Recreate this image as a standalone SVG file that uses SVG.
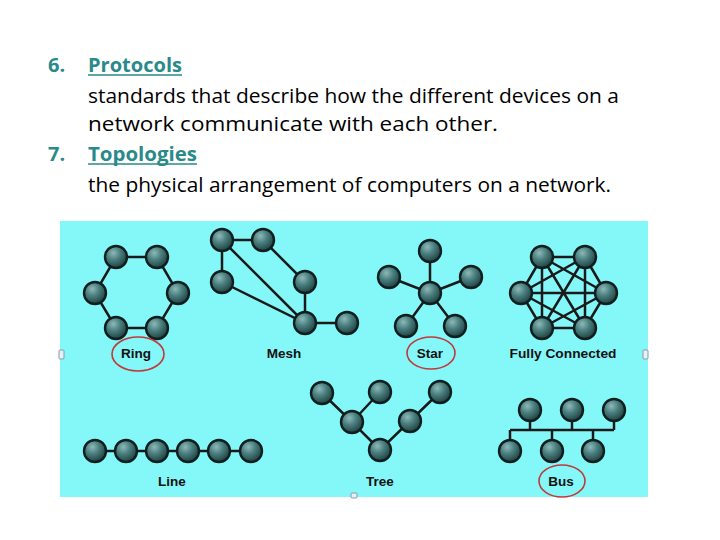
<svg xmlns="http://www.w3.org/2000/svg" width="720" height="540" viewBox="0 0 720 540">
<defs>
<radialGradient id="ng" cx="0.38" cy="0.32" r="0.7">
<stop offset="0" stop-color="#8fb8b8"/>
<stop offset="0.45" stop-color="#4a7f7f"/>
<stop offset="1" stop-color="#203f3f"/>
</radialGradient>
</defs>
<style>
.t{font-family:"Open Sans","Liberation Sans",Arial,sans-serif;font-size:20px;fill:#000}
.h{font-family:"Open Sans","Liberation Sans",Arial,sans-serif;font-size:20px;font-weight:bold;fill:#2a8a8a}
.n{fill:url(#ng);stroke:#0f1e1e;stroke-width:2.4}
.e{stroke:#1a1a1a;stroke-width:2.5;fill:none}
.l{font-family:"Liberation Sans",Arial,sans-serif;font-size:13.5px;font-weight:bold;fill:#111;text-anchor:middle}
.o{fill:none;stroke:#c0393b;stroke-width:1.6}
.hd{fill:#e8f0f4;stroke:#8a9aa8;stroke-width:1}
</style>
<rect width="720" height="540" fill="#fff"/>
<g id="text">
<text class="h" x="48" y="72">6.</text>
<text class="h" x="88" y="72" textLength="94" lengthAdjust="spacingAndGlyphs">Protocols</text>
<line x1="88" y1="75" x2="182" y2="75" stroke="#2a8a8a" stroke-width="1.5"/>
<text class="t" x="88" y="103" textLength="531" lengthAdjust="spacingAndGlyphs">standards that describe how the different devices on a</text>
<text class="t" x="88" y="131" textLength="410" lengthAdjust="spacingAndGlyphs">network communicate with each other.</text>
<text class="h" x="48" y="161">7.</text>
<text class="h" x="88" y="161" textLength="109" lengthAdjust="spacingAndGlyphs">Topologies</text>
<line x1="88" y1="164" x2="197" y2="164" stroke="#2a8a8a" stroke-width="1.5"/>
<text class="t" x="88" y="192" textLength="523" lengthAdjust="spacingAndGlyphs">the physical arrangement of computers on a network.</text>
</g>
<rect id="panel" x="60" y="221" width="588" height="276" fill="#84f8f8"/>
<g id="handles">
<rect class="hd" x="59" y="350" width="5" height="9" rx="1"/>
<rect class="hd" x="643" y="350" width="5" height="9" rx="1"/>
<rect class="hd" x="351" y="493" width="6" height="5" rx="1"/>
</g>
<g id="connectors">
<polygon class="e" points="116,257 157,257 178,293 157,328 116,328 95,293"/>
<path class="e" d="M222,240 L263,240 M222,240 L222,282 M222,240 L305,323 M263,240 L305,282 L305,323 M222,282 L305,323 L347,323"/>
<path class="e" d="M430,293 L430,251 M430,293 L389,277 M430,293 L471,277 M430,293 L406,326 M430,293 L455,326"/>
<path class="e" d="M542,257 L585,257 M542,257 L521,293 M542,257 L606,293 M542,257 L542,328 M542,257 L585,328 M585,257 L521,293 M585,257 L606,293 M585,257 L542,328 M585,257 L585,328 M521,293 L606,293 M521,293 L542,328 M521,293 L585,328 M606,293 L542,328 M606,293 L585,328 M542,328 L585,328" stroke-width="2"/>
<path class="e" d="M95,451 L251,451"/>
<path class="e" d="M322,393 L352,422 L380,450 L410,421 L440,392 M380,392 L352,422"/>
<path class="e" d="M510,430 L614,430 M530,410 L530,430 M572,410 L572,430 M614,410 L614,430 M510,430 L510,450 M552,430 L552,450 M593,430 L593,450"/>
</g>
<g id="ring">
<circle class="n" cx="116" cy="257" r="11"/>
<circle class="n" cx="157" cy="257" r="11"/>
<circle class="n" cx="95" cy="293" r="11"/>
<circle class="n" cx="178" cy="293" r="11"/>
<circle class="n" cx="116" cy="328" r="11"/>
<circle class="n" cx="157" cy="328" r="11"/>
<text class="l" x="136" y="358">Ring</text>
<ellipse class="o" cx="138" cy="354" rx="26" ry="17"/>
</g>
<g id="mesh">
<circle class="n" cx="222" cy="240" r="11"/>
<circle class="n" cx="263" cy="240" r="11"/>
<circle class="n" cx="222" cy="282" r="11"/>
<circle class="n" cx="305" cy="282" r="11"/>
<circle class="n" cx="305" cy="323" r="11"/>
<circle class="n" cx="347" cy="323" r="11"/>
<text class="l" x="284" y="358">Mesh</text>
</g>
<g id="star">
<circle class="n" cx="430" cy="251" r="11"/>
<circle class="n" cx="389" cy="277" r="11"/>
<circle class="n" cx="471" cy="277" r="11"/>
<circle class="n" cx="430" cy="293" r="11"/>
<circle class="n" cx="406" cy="326" r="11"/>
<circle class="n" cx="455" cy="326" r="11"/>
<text class="l" x="430" y="358">Star</text>
<ellipse class="o" cx="431" cy="353" rx="24" ry="16"/>
</g>
<g id="fully-connected">
<circle class="n" cx="542" cy="257" r="11"/>
<circle class="n" cx="585" cy="257" r="11"/>
<circle class="n" cx="521" cy="293" r="11"/>
<circle class="n" cx="606" cy="293" r="11"/>
<circle class="n" cx="542" cy="328" r="11"/>
<circle class="n" cx="585" cy="328" r="11"/>
<text class="l" x="563" y="358" textLength="107" lengthAdjust="spacingAndGlyphs">Fully Connected</text>
</g>
<g id="line">
<circle class="n" cx="95" cy="451" r="11"/>
<circle class="n" cx="126" cy="451" r="11"/>
<circle class="n" cx="157" cy="451" r="11"/>
<circle class="n" cx="188" cy="451" r="11"/>
<circle class="n" cx="219" cy="451" r="11"/>
<circle class="n" cx="251" cy="451" r="11"/>
<text class="l" x="172" y="486">Line</text>
</g>
<g id="tree">
<circle class="n" cx="322" cy="393" r="11"/>
<circle class="n" cx="380" cy="392" r="11"/>
<circle class="n" cx="440" cy="392" r="11"/>
<circle class="n" cx="352" cy="422" r="11"/>
<circle class="n" cx="410" cy="421" r="11"/>
<circle class="n" cx="380" cy="450" r="11"/>
<text class="l" x="380" y="486">Tree</text>
</g>
<g id="bus">
<circle class="n" cx="530" cy="410" r="11"/>
<circle class="n" cx="572" cy="410" r="11"/>
<circle class="n" cx="614" cy="410" r="11"/>
<circle class="n" cx="510" cy="451" r="11"/>
<circle class="n" cx="552" cy="451" r="11"/>
<circle class="n" cx="593" cy="451" r="11"/>
<text class="l" x="561" y="486">Bus</text>
<ellipse class="o" cx="562" cy="481" rx="23" ry="16"/>
</g>
</svg>
